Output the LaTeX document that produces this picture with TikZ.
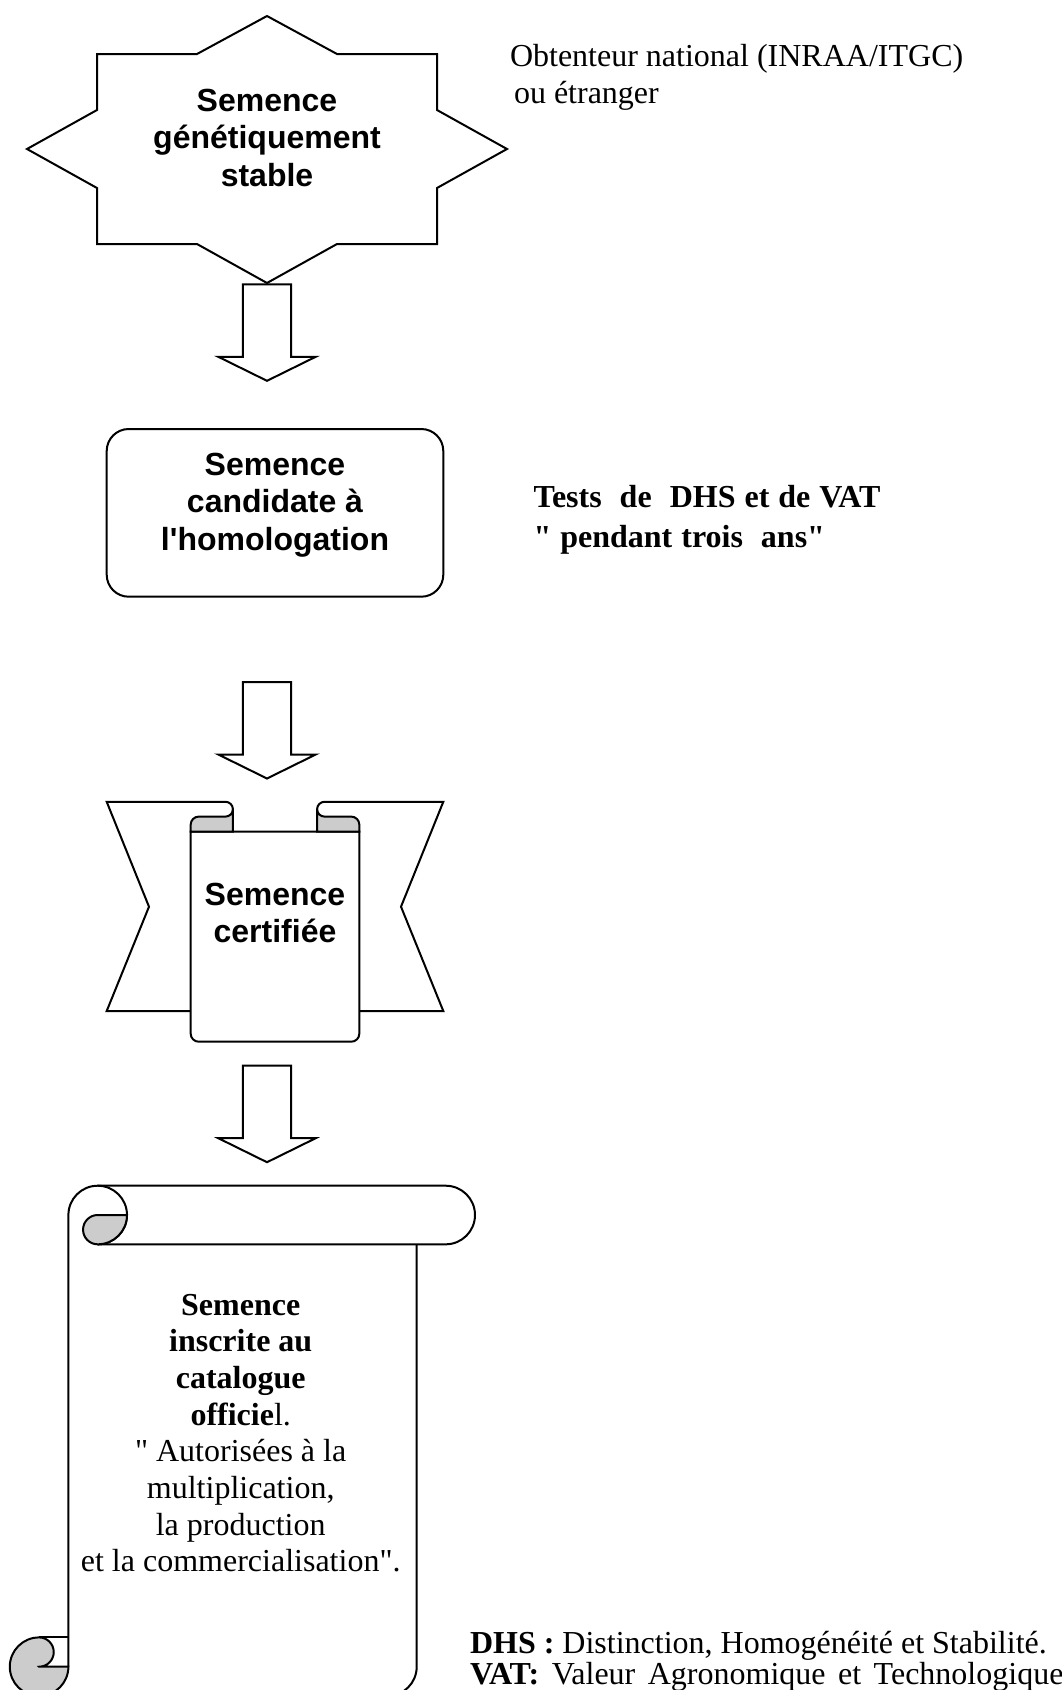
\documentclass[tikz,border=0pt]{standalone}
\usepackage{fontspec}
\setmainfont[Ligatures=TeXOff]{Liberation Serif}
\newfontfamily\sansfam[Ligatures=TeXOff]{Liberation Sans}
\frenchspacing

% centred or left-aligned block of lines whose baseline is the first line
\newcommand\stacklines[2][c]{\begin{tabular}[t]{@{}#1@{}}#2\end{tabular}}

\tikzset{
  outline/.style={draw=black, line width=2pt, fill=white},
  flap/.style={draw=black, line width=2pt, fill=black!20},
  boldsans/.style={font=\sansfam\bfseries\fontsize{32}{37.5}\selectfont, inner sep=0pt, anchor=base},
  serif/.style={font=\fontsize{32}{36.7}\selectfont, inner sep=0pt, anchor=base},
  pics/blockarrow/.style={code={
    \draw[outline] (-24.2,0) -- (24.2,0) -- (24.2,72.5) -- (48.7,72.5)
      -- (0,96.5) -- (-48.7,72.5) -- (-24.2,72.5) -- cycle;}}
}

\begin{document}
\begin{tikzpicture}[x=1pt, y=-1pt, line width=2pt]
\useasboundingbox (0,0) rectangle (1062,1690);
\fill[white] (0,0) rectangle (1062,1690);
\clip (0,0) rectangle (1062,1690);

% eight-point star
\draw[outline] (267,16) -- (337,54) -- (437,54) -- (437,110) -- (507,149)
  -- (437,188) -- (437,244) -- (337,244) -- (267,283) -- (197,244)
  -- (97,244) -- (97,188) -- (27,149) -- (97,110) -- (97,54) -- (197,54) -- cycle;
\node[boldsans] (stable) at (267,111) {\stacklines{Semence\\génétiquement\\stable}};

\node[serif, anchor=base west, font=\fontsize{32}{37.5}\selectfont] (obtenteur) at (509,66)
  {\stacklines[l]{Obtenteur national (INRAA/ITGC)\\\hspace*{4pt}ou étranger}};

\pic (arrowA) at (267,284.3) {blockarrow};

% rounded box
\draw[outline, rounded corners=22pt] (106.7,429) rectangle (443.3,596.7);
\node[boldsans] (candidate) at (275,475) {\stacklines{Semence\\candidate à\\l'homologation}};

\node[serif, anchor=base west, font=\bfseries\fontsize{32}{40}\selectfont] (tests) at (532.6,507)
  {\spaceskip=9pt\relax\stacklines[l]{Tests\ \ de\ \ DHS et de VAT\\" pendant trois\ \ ans"}};

\pic (arrowB) at (267,682) {blockarrow};

% ribbon: side bands
\draw[outline] (106.7,801.8) -- (225.5,801.8) arc[start angle=-90, end angle=0, radius=7.4]
  -- (232.9,1011) -- (106.7,1011) -- (149,906.7) -- cycle;
\draw[outline] (443.3,801.8) -- (324.5,801.8) arc[start angle=-90, end angle=-180, radius=7.4]
  -- (317.1,1011) -- (443.3,1011) -- (401,906.7) -- cycle;
% ribbon: central panel
\draw[outline] (190.7,831.7) -- (190.7,1033.7) arc[start angle=180, end angle=90, radius=8]
  -- (351.3,1041.7) arc[start angle=90, end angle=0, radius=8] -- (359.3,831.7) -- cycle;
% ribbon: folded ends
\draw[flap] (190.7,831.7) -- (190.7,824.6) arc[start angle=180, end angle=270, radius=8]
  -- (225.5,816.6) arc[start angle=90, end angle=0, radius=7.4] -- (232.9,831.7) -- cycle;
\draw[flap] (359.3,831.7) -- (359.3,824.6) arc[start angle=0, end angle=-90, radius=8]
  -- (324.5,816.6) arc[start angle=90, end angle=180, radius=7.4] -- (317.1,831.7) -- cycle;
\node[boldsans] (certifiee) at (275,905) {\stacklines{Semence\\certifiée}};

\pic (arrowC) at (267,1065.7) {blockarrow};

% vertical scroll
\draw (68.4,1666.7) -- (68.4,1215) arc[start angle=180, end angle=270, radius=29.3]
  -- (445.7,1185.7) arc[start angle=-90, end angle=90, radius=29.3] -- (97.7,1244.3);
\draw (97.7,1185.7) arc[start angle=-90, end angle=90, radius=29.3];
\draw[flap] (97.7,1215) -- (127,1215) arc[start angle=0, end angle=90, radius=29.3]
  arc[start angle=90, end angle=270, radius=14.65] -- cycle;
\draw (416.7,1244.3) -- (416.7,1666.7) arc[start angle=0, end angle=90, radius=29.3] -- (39.1,1696);
\draw[flap] (39.1,1666.7) -- (68.4,1666.7) arc[start angle=0, end angle=270, radius=29.3]
  arc[start angle=-90, end angle=90, radius=14.65] -- cycle;
\draw (39.1,1637.4) -- (68.4,1637.4);

\node[serif] (inscrite) at (240.7,1315) {\stacklines{\textbf{Semence}\\\textbf{inscrite au}\\\textbf{catalogue}\\\textbf{officie}l.\\" Autorisées à la\\multiplication,\\la production\\et la commercialisation".}};

\node[serif, anchor=base west] (dhs) at (469,1653) {\textbf{DHS :} Distinction, Homogénéité et Stabilité.};
\node[serif, anchor=base west] (vat) at (469,1684) {\spaceskip=12.5pt\relax\textbf{VAT:} Valeur Agronomique et Technologique};
\end{tikzpicture}
\end{document}
